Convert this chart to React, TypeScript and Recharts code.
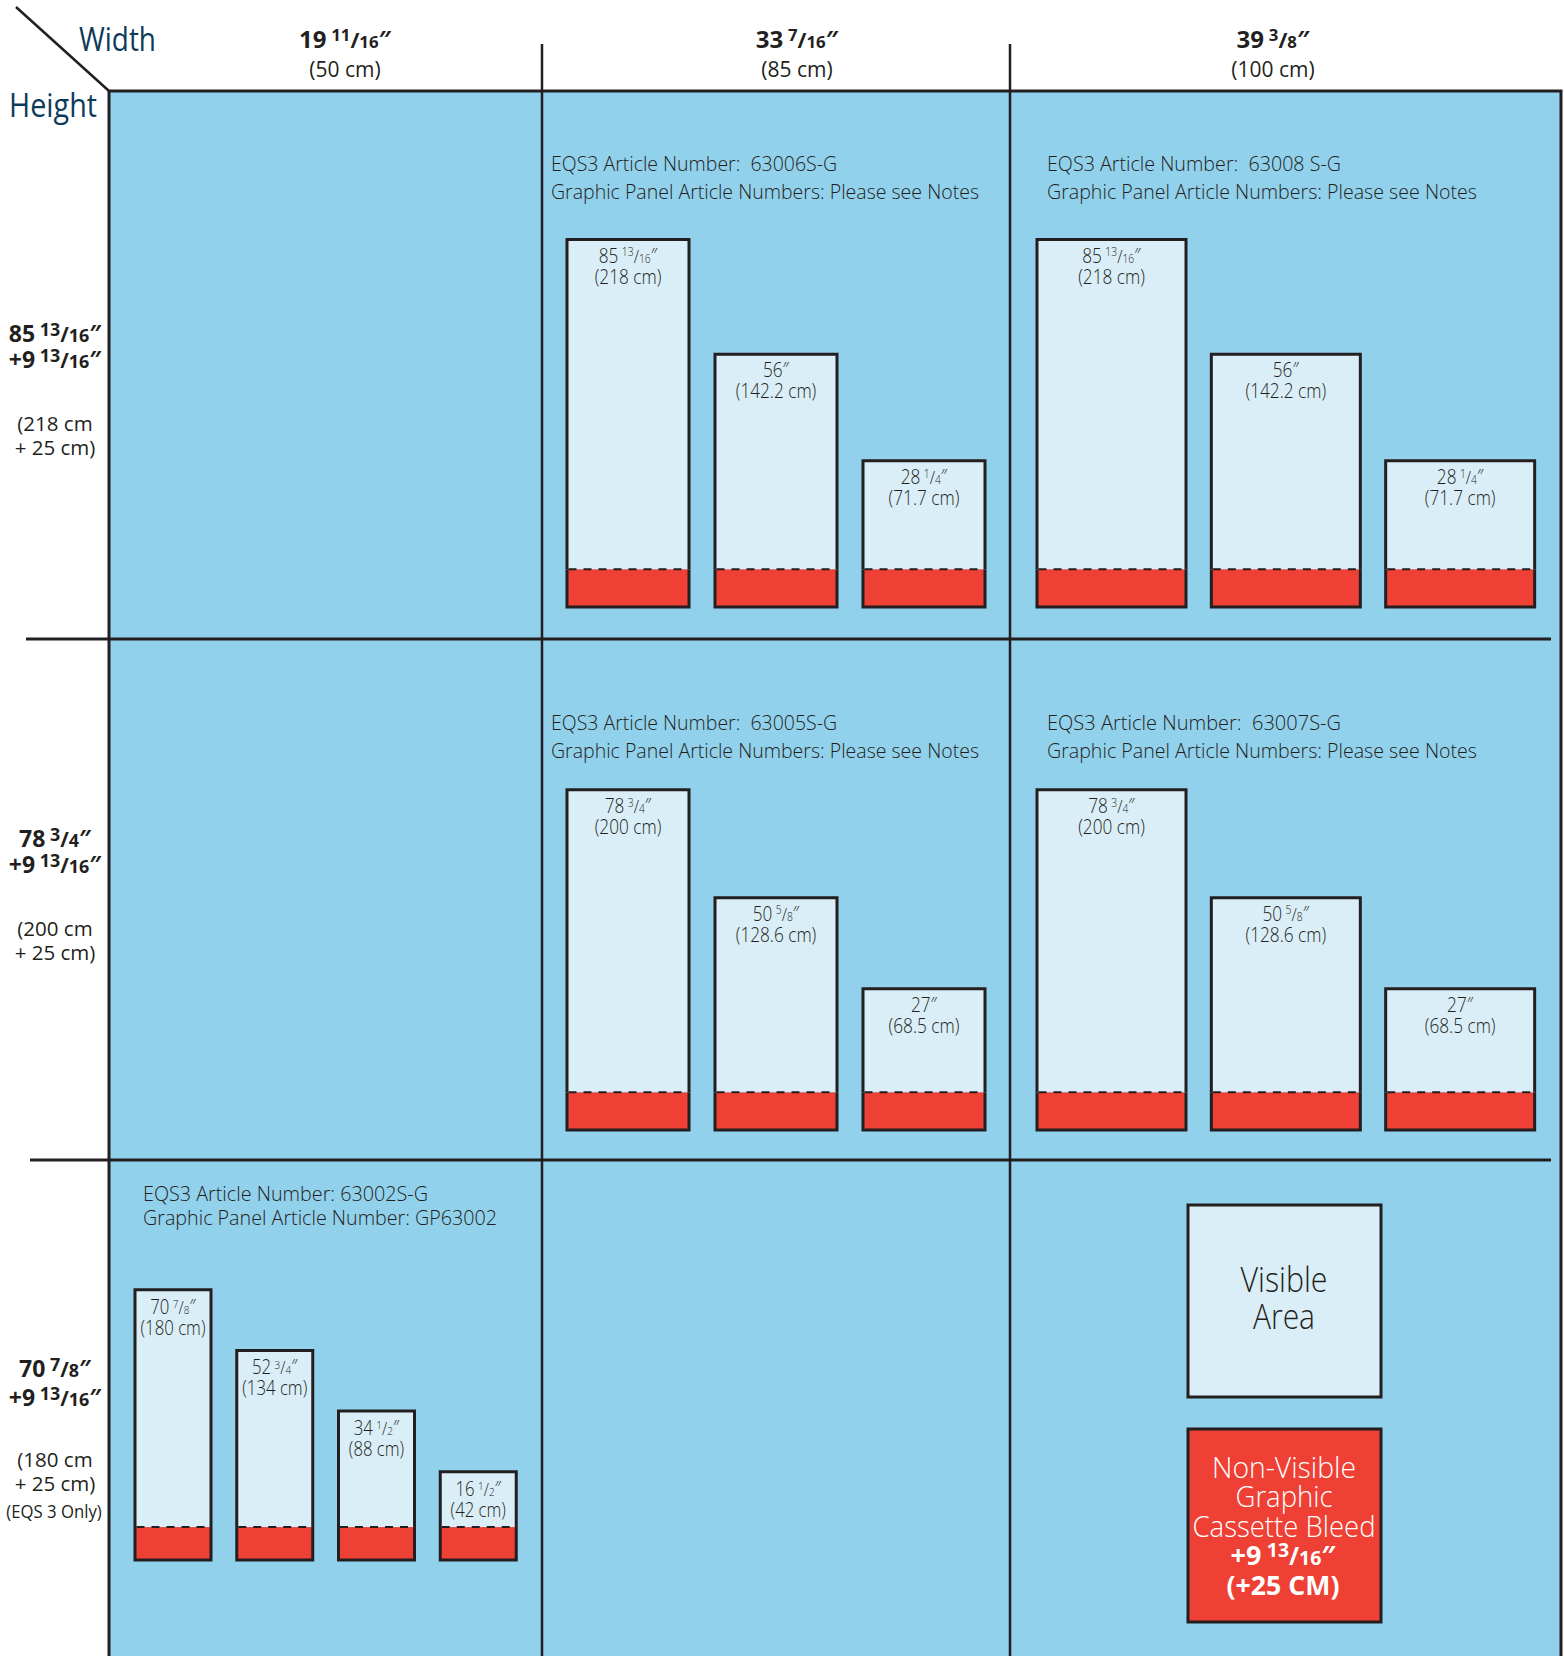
import React from 'react';
import { BarChart, Bar, XAxis, YAxis, Surface } from 'recharts';

// ---------- data ----------
const widthInches = ['19 11/16', '33 7/16', '39 3/8'];
const widthCms = ['(50 cm)', '(85 cm)', '(100 cm)'];
const heightInches = ['85 13/16', '78 3/4', '70 7/8'];
const heightCms = ['(218 cm', '(200 cm', '(180 cm'];
const bleedInch = '+9 13/16';
const bleedCmText = '+ 25 cm)';
const eqs3Only = '(EQS 3 Only)';

const articleNumbers = ['63006S-G', '63008 S-G', '63005S-G', '63007S-G', '63002S-G'];
const panelNote = 'Please see Notes';
const smallPanelNumber = 'GP63002';

const tallInches = ['85 13/16', '56', '28 1/4'];
const tallCms = [218, 142.2, 71.7];
const midInches = ['78 3/4', '50 5/8', '27'];
const midCms = [200, 128.6, 68.5];
const shortInches = ['70 7/8', '52 3/4', '34 1/2', '16 1/2'];
const shortCms = [180, 134, 88, 42];
const bleedCm = 25;

const legendVisible = ['Visible', 'Area'];
const legendBleed = ['Non-Visible', 'Graphic', 'Cassette Bleed'];
const legendBleedIn = '+9 13/16';
const legendBleedCm = '(+25 CM)';

// ---------- style ----------
const W = 1564;
const H = 1656;
const FONT = "'Open Sans', 'Noto Sans', sans-serif";
const INK = '#231f20';
const NAVY = '#0d3b5a';
const PANEL = '#92d1ec';
const LIGHT = '#daeef7';
const RED = '#ee4035';

type TxtProps = {
  x: number; y: number; size: number; anchor?: 'start' | 'middle' | 'end';
  weight?: number; fill?: string; sx?: number; len?: number; children: React.ReactNode;
};
function Txt({ x, y, size, anchor = 'middle', weight = 400, fill = INK, sx = 1, len, children }: TxtProps) {
  const extra: any = len ? { textLength: len, lengthAdjust: 'spacingAndGlyphs' } : {};
  return (
    <text transform={`translate(${x} ${y}) scale(${sx} 1)`} x={0} y={0} textAnchor={anchor}
      fontSize={size} fontWeight={weight} fill={fill} fontFamily={FONT} {...extra}>
      {children}
    </text>
  );
}

function Dim({ s, size, frac = 0.6, lift = 0.32, gap = 0.22 }: { s: string; size: number; frac?: number; lift?: number; gap?: number }) {
  const m = s.match(/^(\+?\d+)(?: (\d+)\/(\d+))?$/);
  const whole = m ? m[1] : s;
  const num = m ? m[2] : undefined;
  const den = m ? m[3] : undefined;
  return (
    <>
      <tspan>{whole}</tspan>
      {num ? (
        <>
          <tspan dx={size * gap} dy={-size * lift} fontSize={size * frac}>{num}</tspan>
          <tspan dy={size * lift} fontSize={size * 0.9}>/</tspan>
          <tspan fontSize={size * frac}>{den}</tspan>
        </>
      ) : null}
      <tspan>{'\u2033'}</tspan>
    </>
  );
}

type LabelCfg = { size: number; sx: number; dy1: number; dy2: number };

const bleedShape = (props: any) => {
  const { x, y, width, height } = props;
  return (
    <g>
      <rect x={x} y={y} width={width} height={height} fill={RED} />
      <path d={`M${x},${y}V${y + height}H${x + width}V${y}`} fill="none" stroke={INK} strokeWidth={3} />
    </g>
  );
};

const visibleShape = (lab: LabelCfg) => (props: any) => {
  const { x, y, width, height, payload } = props;
  const cx = x + width / 2;
  return (
    <g>
      <rect x={x} y={y} width={width} height={height} fill={LIGHT} />
      <path d={`M${x},${y + height}V${y}H${x + width}V${y + height}`} fill="none" stroke={INK} strokeWidth={3} />
      <line x1={x + 1.5} x2={x + width - 1.5} y1={y + height} y2={y + height} stroke={INK} strokeWidth={2} strokeDasharray="8 7" />
      <Txt x={cx} y={y + lab.dy1} size={lab.size} sx={lab.sx} weight={300} fill={INK}>
        <Dim s={payload.inch} size={lab.size} frac={0.6} lift={0.3} gap={0.2} />
      </Txt>
      <Txt x={cx} y={y + lab.dy2} size={lab.size} sx={lab.sx} weight={300} fill={INK}>{`(${payload.cm} cm)`}</Txt>
    </g>
  );
};

type PanelCfg = {
  inches: string[]; cms: number[]; plotX: number; plotW: number; plotBottom: number;
  plotH: number; domain: number; barSize: number; label: LabelCfg;
};

function PanelChart({ p }: { p: PanelCfg }) {
  const data = p.cms.map((cm, i) => ({ key: p.inches[i], inch: p.inches[i], cm, bleed: bleedCm }));
  const pad = 4;
  return (
    <div style={{ position: 'absolute', left: p.plotX - pad, top: p.plotBottom - p.plotH }}>
      <BarChart width={p.plotW + 2 * pad} height={p.plotH + pad} data={data}
        margin={{ top: 0, right: pad, bottom: pad, left: pad }} barCategoryGap={0} barGap={0}>
        <XAxis dataKey="key" hide />
        <YAxis hide type="number" domain={[0, p.domain]} />
        <Bar dataKey="bleed" stackId="s" barSize={p.barSize} isAnimationActive={false} shape={bleedShape} />
        <Bar dataKey="cm" stackId="s" barSize={p.barSize} isAnimationActive={false} shape={visibleShape(p.label)} />
      </BarChart>
    </div>
  );
}

const bigLab: LabelCfg = { size: 21, sx: 0.82, dy1: 23, dy2: 44 };
const smallLab: LabelCfg = { size: 19.5, sx: 0.86, dy1: 24, dy2: 45 };

const panels: PanelCfg[] = [
  { inches: tallInches, cms: tallCms, plotX: 554, plotW: 444, plotBottom: 607, plotH: 378, domain: 250, barSize: 122, label: bigLab },
  { inches: tallInches, cms: tallCms, plotX: 1024, plotW: 523, plotBottom: 607, plotH: 378, domain: 250, barSize: 149, label: bigLab },
  { inches: midInches, cms: midCms, plotX: 554, plotW: 444, plotBottom: 1130, plotH: 378, domain: 250, barSize: 122, label: bigLab },
  { inches: midInches, cms: midCms, plotX: 1024, plotW: 523, plotBottom: 1130, plotH: 378, domain: 250, barSize: 149, label: bigLab },
  { inches: shortInches, cms: shortCms, plotX: 122, plotW: 407, plotBottom: 1560, plotH: 290, domain: 220, barSize: 76, label: smallLab },
];

const panelTexts = [
  { x: 551, y1: 171, y2: 199, size: 21, l1: 286, l2: 428 },
  { x: 1047, y1: 171, y2: 199, size: 21, l1: 294, l2: 430 },
  { x: 551, y1: 730, y2: 758, size: 21, l1: 286, l2: 428 },
  { x: 1047, y1: 730, y2: 758, size: 21, l1: 294, l2: 430 },
  { x: 143, y1: 1201, y2: 1225, size: 20, l1: 285, l2: 354 },
];

const colCenters = [345, 797, 1273];
const rowBase = [342, 847, 1377];
const rowBase2 = [368, 873, 1406];
const rowCmBase = [431, 936, 1467];

export default function App() {
  return (
    <div style={{ position: 'absolute', left: 0, top: 0, width: W, height: H, background: '#fff', overflow: 'hidden' }}>
      <div style={{ position: 'absolute', left: 0, top: 0 }}>
        <Surface width={W} height={H}>
          <rect x={0} y={0} width={W} height={H} fill="#fff" />
          <rect x={109} y={91} width={1452} height={H - 91 + 5} fill={PANEL} />
          <line x1={16} y1={7} x2={109} y2={91} stroke={INK} strokeWidth={2.5} />
          <path d={`M109,${H + 5}V91H1561V${H + 5}`} fill="none" stroke={INK} strokeWidth={3} />
          <line x1={542} y1={44} x2={542} y2={H} stroke={INK} strokeWidth={2.5} />
          <line x1={1010} y1={44} x2={1010} y2={H} stroke={INK} strokeWidth={2.5} />
          <line x1={26} y1={639} x2={1551} y2={639} stroke={INK} strokeWidth={3} />
          <line x1={30} y1={1160} x2={1551} y2={1160} stroke={INK} strokeWidth={3} />

          <Txt x={79} y={51} size={33} anchor="start" fill={NAVY} len={77}>Width</Txt>
          <Txt x={9} y={117} size={33} anchor="start" fill={NAVY} len={88}>Height</Txt>

          {widthInches.map((w, i) => (
            <Txt key={'wi' + i} x={colCenters[i]} y={48} size={24} weight={700}>
              <Dim s={w} size={24} frac={0.7} lift={0.3} gap={0.2} />
            </Txt>
          ))}
          {widthCms.map((w, i) => (
            <Txt key={'wc' + i} x={colCenters[i]} y={77} size={21}>{w}</Txt>
          ))}

          {heightInches.map((h, i) => (
            <g key={'hr' + i}>
              <Txt x={55} y={rowBase[i]} size={23} weight={700}>
                <Dim s={h} size={23} frac={0.78} lift={0.28} gap={0.2} />
              </Txt>
              <Txt x={55} y={rowBase2[i]} size={23} weight={700}>
                <Dim s={bleedInch} size={23} frac={0.78} lift={0.28} gap={0.2} />
              </Txt>
              <Txt x={55} y={rowCmBase[i]} size={20.5}>{heightCms[i]}</Txt>
              <Txt x={55} y={rowCmBase[i] + 24} size={20.5}>{bleedCmText}</Txt>
            </g>
          ))}
          <Txt x={54} y={1518} size={18} sx={0.93}>{eqs3Only}</Txt>

          {panelTexts.map((t, i) => (
            <g key={'pt' + i}>
              <Txt x={t.x} y={t.y1} size={t.size} anchor="start" weight={300} len={t.l1}>
                {i < 4 ? `EQS3 Article Number:\u00a0 ${articleNumbers[i]}` : `EQS3 Article Number: ${articleNumbers[i]}`}
              </Txt>
              <Txt x={t.x} y={t.y2} size={t.size} anchor="start" weight={300} len={t.l2}>
                {i < 4 ? `Graphic Panel Article Numbers: ${panelNote}` : `Graphic Panel Article Number: ${smallPanelNumber}`}
              </Txt>
            </g>
          ))}

          <rect x={1188} y={1205} width={193} height={192} fill={LIGHT} stroke={INK} strokeWidth={3} />
          <Txt x={1284} y={1292} size={34} weight={300} len={87}>{legendVisible[0]}</Txt>
          <Txt x={1284} y={1329} size={34} weight={300} len={62}>{legendVisible[1]}</Txt>

          <rect x={1188} y={1429} width={193} height={193} fill={RED} stroke={INK} strokeWidth={3} />
          <Txt x={1284} y={1478} size={29} weight={300} fill="#fff" len={144}>{legendBleed[0]}</Txt>
          <Txt x={1284} y={1507} size={29} weight={300} fill="#fff" len={97}>{legendBleed[1]}</Txt>
          <Txt x={1284} y={1537} size={29} weight={300} fill="#fff" len={183}>{legendBleed[2]}</Txt>
          <Txt x={1283} y={1565} size={27} weight={700} fill="#fff">
            <Dim s={legendBleedIn} size={27} frac={0.72} lift={0.28} gap={0.2} />
          </Txt>
          <Txt x={1283} y={1595} size={27} weight={700} fill="#fff" len={113}>{legendBleedCm}</Txt>
        </Surface>
      </div>
      {panels.map((p, i) => (
        <PanelChart key={'pc' + i} p={p} />
      ))}
    </div>
  );
}
